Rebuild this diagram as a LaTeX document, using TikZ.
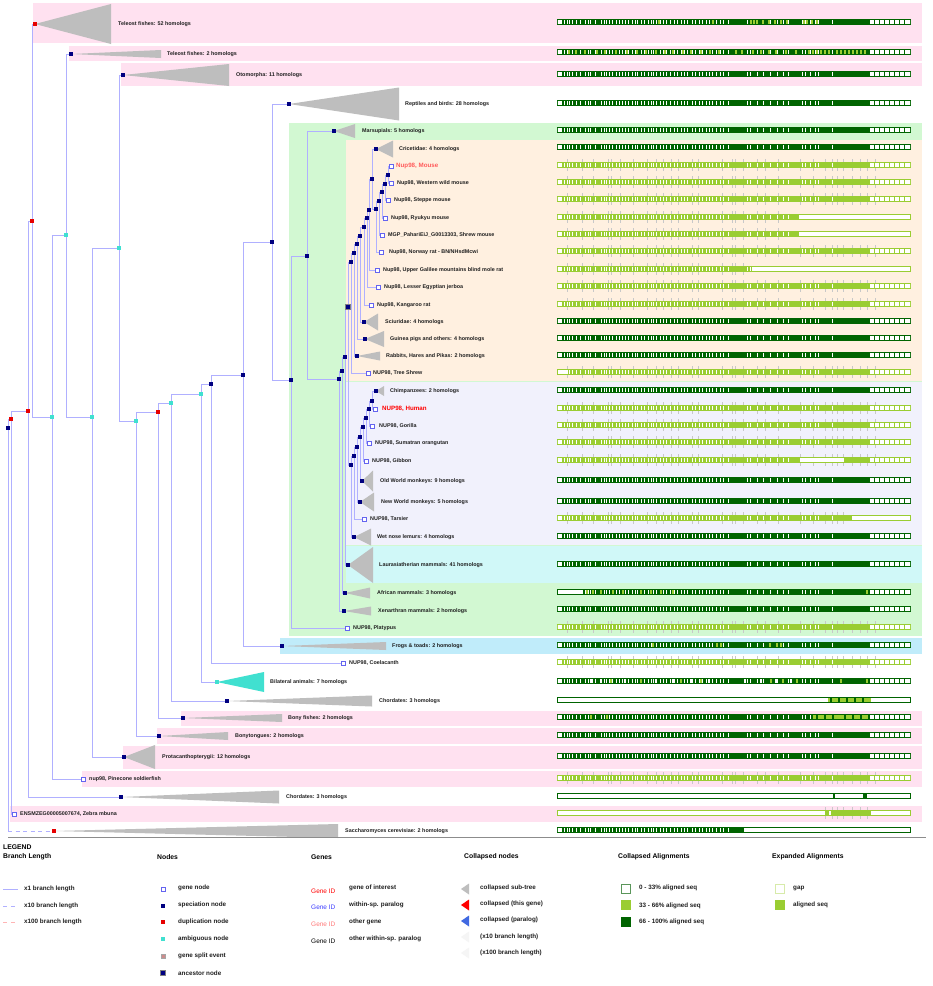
\documentclass[tikz,border=0pt]{standalone}
\usepackage{fontspec}
\setmainfont{Liberation Sans}
\pgfdeclarelayer{bands}\pgfdeclarelayer{edges}
\pgfsetlayers{bands,edges,main}
\definecolor{brc}{RGB}{176,176,255}
\definecolor{genebd}{RGB}{100,100,240}
\definecolor{navyc}{RGB}{0,0,128}
\definecolor{dupc}{RGB}{230,0,0}
\definecolor{ambc}{RGB}{64,224,208}
\definecolor{trig}{RGB}{190,190,190}
\definecolor{pinkb}{RGB}{255,225,240}
\definecolor{greenb}{RGB}{210,248,210}
\definecolor{peachb}{RGB}{255,240,224}
\definecolor{lavb}{RGB}{241,241,252}
\definecolor{cyanb}{RGB}{208,248,248}
\definecolor{blueb}{RGB}{192,236,250}
\definecolor{dkg}{RGB}{0,100,0}
\definecolor{lgc}{RGB}{154,205,50}
\definecolor{tickc}{RGB}{200,200,200}
\definecolor{mousec}{RGB}{255,90,90}
\definecolor{parac}{RGB}{60,60,255}
\definecolor{othc}{RGB}{255,120,120}
\definecolor{lblue}{RGB}{65,105,225}
\tikzset{
 br/.style={draw=brc, line width=0.9pt},
 spec/.style={rectangle, fill=navyc, minimum size=3.4pt, inner sep=0pt},
 dupn/.style={rectangle, fill=dupc, minimum size=3.4pt, inner sep=0pt},
 ambn/.style={rectangle, fill=ambc, minimum size=3.4pt, inner sep=0pt},
 genen/.style={rectangle, draw=genebd, fill=white, line width=0.6pt, minimum size=4pt, inner sep=0pt},
 ancn/.style={rectangle, draw=gray, fill=navyc, line width=0.8pt, minimum size=4.6pt, inner sep=0pt},
 lab/.style={anchor=west, inner sep=0pt, text=black!88, font=\fontsize{5.4}{6}\selectfont\bfseries},
 biglab/.style={anchor=west, inner sep=0pt, font=\fontsize{6.2}{7}\selectfont\bfseries},
 leghead/.style={anchor=west, inner sep=0pt, font=\fontsize{6.8}{8}\selectfont\bfseries},
 legtxt/.style={anchor=west, inner sep=0pt, text=black!88, font=\fontsize{6.3}{7}\selectfont\bfseries},
 gid/.style={anchor=west, inner sep=0pt, font=\fontsize{6.5}{7}\selectfont},
 trif/.style={fill=trig}
}
\def\gapsA{564,566.5,569,571.5,576,580,585,587.5,590,595,601,603.5,606,609,612,616,619,622,625,628,632,634.5,637,641,644,648,650.5,653,656,660,663,666,670,674,677,681,684,687,692,695,699,702,706,709,712,716,720,723,728,747,750,757,763,770,777,783,788,802,805,810,815,818,832}
\def\ticksA{567,582,593,608,611,620,633,647,656,663,671,678,692,698,722,732,735,743,757,765,778,800,813,825,832,837,843,852,860,867,875}
\newcommand\abar[4]{%
 \fill[#2] (557,#1-2.7) rectangle (911,#1+2.7);
 \fill[white] (557.6,#1-1.9) rectangle (562,#1+1.9);
 \foreach \g in \gapsA {\fill[white] (\g,#1-1.9) rectangle ++(1.05,3.8);}
 \fill[white] (870,#1-1.9) rectangle (910.4,#1+1.9);
 \foreach \g in {874,879,...,904} {\fill[#2] (\g,#1-1.9) rectangle ++(1,3.8);}
 \fill[white] (#3,#1-1.9) rectangle (910.4,#1+1.9);
 \fill[white] (557.6,#1-1.9) rectangle (#4,#1+1.9);
}
\newcommand\ebar[3]{%
 \foreach \g in \ticksA {\ifdim\g pt<#2pt \draw[tickc, line width=0.6pt] (\g,#1-6) -- (\g,#1+6);\fi}
 \abar{#1}{lgc}{#2}{#3}
}
\newcommand\obar[2]{%
 \fill[#2] (557,#1-2.7) rectangle (911,#1+2.7);
 \fill[white] (557.6,#1-1.9) rectangle (910.4,#1+1.9);
}
\newcommand\lbits[3]{\foreach \g in {#3} {\fill[#2] (\g,#1-1.9) rectangle ++(1.6,3.8);}}
\newcommand\cleaf[8]{%
 \node[#2] (#1) at (#3,#4) {};
 \begin{pgfonlayer}{edges}\fill[trif] (#1.center) -- (#5,#4-#6) -- (#5,#4+#6) -- cycle;\end{pgfonlayer}
 \node[lab] (#1t) at (#7,#4) {#8};
}
\newcommand\gleaf[5]{%
 \node[genen] (#1) at (#2,#3) {};
 \node[lab] (#1t) at (#4,#3) {#5};
}
\begin{document}
\begin{tikzpicture}[x=1pt,y=-1pt]
\useasboundingbox (0,0) rectangle (933,986);
% ---------- taxon bands
\begin{pgfonlayer}{bands}
\fill[white] (0,0) rectangle (933,986);
\fill[pinkb] (33,3) rectangle (922,43);
\fill[pinkb] (69,46) rectangle (922,61);
\fill[pinkb] (121,63) rectangle (922,86);
\fill[greenb] (289,123) rectangle (922,636);
\fill[peachb] (346,140) rectangle (922,381);
\fill[lavb] (346,382) rectangle (922,545);
\fill[cyanb] (346,546) rectangle (922,583);
\fill[blueb] (280,638) rectangle (922,654);
\fill[pinkb] (181,711) rectangle (922,726);
\fill[pinkb] (157,728) rectangle (922,744);
\fill[pinkb] (123,746) rectangle (922,769);
\fill[pinkb] (82,771) rectangle (922,787);
\fill[pinkb] (10,806) rectangle (922,822);
\end{pgfonlayer}
% ---------- internal nodes
\node[spec] (r0) at (8,428) {};
\node[dupn] (d1) at (11,419) {};
\node[dupn] (d2) at (28,411) {};
\node[dupn] (d3) at (32,221) {};
\node[ambn] (a1) at (52,417) {};
\node[ambn] (a2) at (66,235) {};
\node[ambn] (a3) at (92,417) {};
\node[ambn] (a4) at (119,248) {};
\node[ambn] (a5) at (136,421) {};
\node[dupn] (d4) at (158,412) {};
\node[ambn] (a6) at (171,403) {};
\node[ambn] (a7) at (201,394) {};
\node[spec] (s1) at (211,384) {};
\node[spec] (s2) at (243,375) {};
\node[spec] (s3) at (272,242) {};
\node[spec] (s4) at (291,380) {};
\node[spec] (s5) at (307,256) {};
\node[spec] (s6) at (339,379) {};
\node[spec] (s7) at (342,371) {};
\node[spec] (s8) at (345,357) {};
\node[ancn] (anc1) at (348,307) {};
\node[spec] (s9) at (351,262) {};
\node[spec] (s10) at (354,253) {};
\node[spec] (s11) at (357,244) {};
\node[spec] (s12) at (360,236) {};
\node[spec] (s13) at (364,227) {};
\node[spec] (s14) at (367,218) {};
\node[spec] (s15) at (369,210) {};
\node[spec] (s16) at (372,179) {};
\node[spec] (s17) at (376,209) {};
\node[spec] (s18) at (379,201) {};
\node[spec] (s19) at (382,192) {};
\node[spec] (s20) at (385,184) {};
\node[spec] (s21) at (388,175) {};
\node[spec] (p8) at (351,465) {};
\node[spec] (p7) at (354,456) {};
\node[spec] (p6) at (357,447) {};
\node[spec] (p5) at (360,437) {};
\node[spec] (p4) at (363,427) {};
\node[spec] (p3) at (366,418) {};
\node[spec] (p2) at (369,409) {};
\node[spec] (p1) at (372,401) {};
% ---------- leaves
\cleaf{L1}{dupn}{35}{24}{111}{20}{118}{Teleost fishes: 52 homologs}
\cleaf{L2}{spec}{71}{54}{161}{4}{167}{Teleost fishes: 2 homologs}
\cleaf{L3}{spec}{123}{75}{229}{11}{236}{Otomorpha: 11 homologs}
\cleaf{L4}{spec}{289}{104}{399}{16.5}{405}{Reptiles and birds: 28 homologs}
\cleaf{L5}{spec}{334}{131}{355}{7}{362}{Marsupials: 5 homologs}
\cleaf{L6}{spec}{376}{149}{393}{8.5}{399}{Cricetidae: 4 homologs}
\node[genen] (G7) at (391,166) {};
\node[biglab, text=mousec] (G7t) at (396,166) {Nup98, Mouse};
\gleaf{G8}{391}{183}{397}{Nup98, Western wild mouse}
\gleaf{G9}{388}{200}{394}{Nup98, Steppe mouse}
\gleaf{G10}{385}{218}{391}{Nup98, Ryukyu mouse}
\gleaf{G11}{382}{235}{388}{MGP\_PahariEiJ\_G0013303, Shrew mouse}
\gleaf{G12}{381}{252}{389}{Nup98, Norway rat - BN/NHsdMcwi}
\gleaf{G13}{377}{270}{383}{Nup98, Upper Galilee mountains blind mole rat}
\gleaf{G14}{378}{287}{384}{Nup98, Lesser Egyptian jerboa}
\gleaf{G15}{371}{305}{377}{Nup98, Kangaroo rat}
\cleaf{L16}{spec}{364}{322}{378}{8.5}{385}{Sciuridae: 4 homologs}
\cleaf{L17}{spec}{365}{339}{384}{8}{390}{Guinea pigs and others: 4 homologs}
\cleaf{L18}{spec}{357}{356}{380}{4.5}{386}{Rabbits, Hares and Pikas: 2 homologs}
\gleaf{G19}{368}{373}{373}{NUP98, Tree Shrew}
\cleaf{L20}{spec}{376}{391}{384}{5}{390}{Chimpanzees: 2 homologs}
\node[genen] (G21) at (375,409) {};
\node[biglab, text=red] (G21t) at (382,409) {NUP98, Human};
\gleaf{G22}{372}{426}{379}{NUP98, Gorilla}
\gleaf{G23}{369}{443}{375}{NUP98, Sumatran orangutan}
\gleaf{G24}{366}{461}{372}{NUP98, Gibbon}
\cleaf{L25}{spec}{362}{481}{373}{10.5}{380}{Old World monkeys: 9 homologs}
\cleaf{L26}{spec}{360}{502}{374}{9.5}{381}{New World monkeys: 5 homologs}
\gleaf{G27}{364}{519}{370}{NUP98, Tarsier}
\cleaf{L28}{spec}{354}{537}{371}{8.5}{377}{Wet nose lemurs: 4 homologs}
\cleaf{L29}{spec}{348}{565}{373}{18}{379}{Laurasiatherian mammals: 41 homologs}
\cleaf{L30}{spec}{345}{593}{370}{5.5}{377}{African mammals: 3 homologs}
\cleaf{L31}{spec}{344}{611}{371}{4.5}{378}{Xenarthran mammals: 2 homologs}
\gleaf{G32}{347}{628}{353}{NUP98, Platypus}
\cleaf{L33}{spec}{282}{646}{386}{4}{392}{Frogs \& toads: 2 homologs}
\gleaf{G34}{343}{663}{349}{NUP98, Coelacanth}
\node[ambn] (L35) at (217,682) {};
\begin{pgfonlayer}{edges}\fill[ambc] (L35.center) -- (264,672) -- (264,692) -- cycle;\end{pgfonlayer}
\node[lab] (L35t) at (270,682) {Bilateral animals: 7 homologs};
\cleaf{L36}{spec}{227}{701}{372}{5.5}{379}{Chordates: 3 homologs}
\cleaf{L37}{spec}{183}{718}{282}{4}{288}{Bony fishes: 2 homologs}
\cleaf{L38}{spec}{159}{736}{228}{4}{235}{Bonytongues: 2 homologs}
\cleaf{L39}{spec}{124}{757}{155}{12}{162}{Protacanthopterygii: 12 homologs}
\gleaf{G40}{83}{779}{89}{nup98, Pinecone soldierfish}
\cleaf{L41}{spec}{121}{797}{279}{6.5}{286}{Chordates: 3 homologs}
\gleaf{G42}{14}{814}{20}{ENSMZEG00005007674, Zebra mbuna}
\cleaf{L43}{dupn}{54}{831}{338}{7}{345}{Saccharomyces cerevisiae: 2 homologs}
% ---------- branches
\begin{pgfonlayer}{edges}
\foreach \p/\c in {r0/d1, d1/d2, d1/G42, d2/d3, d2/L41, d3/L1, d3/a1, a1/a2, a1/G40, a2/L2, a2/a3, a3/a4, a3/L39, a4/L3, a4/a5, a5/d4, a5/L38, d4/a6, d4/L37, a6/a7, a6/L36, a7/s1, a7/L35, s1/s2, s1/G34, s2/s3, s2/L33, s3/L4, s3/s4, s4/s5, s4/G32, s5/L5, s5/s6, s6/s7, s6/L31, s7/s8, s7/L30, s8/anc1, s8/L29, anc1/s9, anc1/p8, s9/s10, s9/G19, s10/s11, s10/L18, s11/s12, s11/L17, s12/s13, s12/L16, s13/s14, s13/G15, s14/s15, s14/G14, s15/s16, s15/G13, s16/L6, s16/s17, s17/s18, s17/G12, s18/s19, s18/G11, s19/s20, s19/G10, s20/s21, s20/G9, s21/G7, s21/G8, p8/p7, p8/L28, p7/p6, p7/G27, p6/p5, p6/L26, p5/p4, p5/L25, p4/p3, p4/G24, p3/p2, p3/G23, p2/p1, p2/G22, p1/L20, p1/G21}
 {\draw[br] (\p.center) |- (\c.center);}
\coordinate (rc) at (r0.center |- L43.center);
\draw[br] (r0.center) -- (rc);
\draw[br, dash pattern=on 4pt off 3.5pt] (rc) -- (L43.center);
\end{pgfonlayer}
% ---------- alignments
\abar{22}{dkg}{910.4}{557.6}\lbits{22}{lgc}{658,712,750,753,756,762,768,774,780,786,803,806,811,816}
\abar{52}{dkg}{910.4}{557.6}\lbits{52}{lgc}{568,575,584,596,604,615,626,636,645,655,664,672,682,690,700,709,718,735,741,752,760,768,775,785,795,808,812,816,820,824,828,836,840,844,848,852,856,860,864}
\abar{74}{dkg}{910.4}{557.6}
\abar{103}{dkg}{910.4}{557.6}
\abar{130}{dkg}{910.4}{557.6}
\abar{147}{dkg}{910.4}{557.6}
\ebar{165}{910.4}{557.6}
\ebar{182}{910.4}{557.6}
\ebar{199}{910.4}{557.6}
\ebar{217}{799}{557.6}
\ebar{234}{799}{557.6}
\ebar{251}{910.4}{557.6}
\ebar{269}{752}{557.6}
\ebar{286}{910.4}{557.6}
\ebar{304}{910.4}{557.6}
\abar{321}{dkg}{910.4}{557.6}
\abar{338}{dkg}{910.4}{557.6}
\abar{355}{dkg}{910.4}{557.6}
\ebar{372}{910.4}{567}
\abar{390}{dkg}{910.4}{557.6}
\ebar{408}{910.4}{557.6}
\ebar{425}{910.4}{557.6}
\ebar{442}{910.4}{557.6}
\ebar{460}{910.4}{557.6}\fill[white] (800,458.1) rectangle (844,461.9);
\abar{480}{dkg}{910.4}{557.6}
\abar{501}{dkg}{910.4}{557.6}
\ebar{518}{852}{557.6}
\abar{536}{dkg}{910.4}{557.6}
\abar{564}{dkg}{910.4}{557.6}
\abar{592}{dkg}{910.4}{583}\lbits{592}{lgc}{586,592,600,612,622,640,650,660,672,866}
\abar{609}{dkg}{910.4}{557.6}
\ebar{627}{910.4}{557.6}
\abar{645}{dkg}{910.4}{557.6}\lbits{645}{lgc}{652,716,720,769,776,780}
\ebar{662}{910.4}{557.6}
\abar{681}{dkg}{910.4}{557.6}\lbits{681}{white}{591,600,624,655,672,690,708,744,760,775,790}\lbits{681}{lgc}{610,640,680,700,770,782,796,840,866}
\obar{700}{dkg}\fill[lgc] (828,698.1) rectangle (871,701.9);\lbits{700}{dkg}{830,838,846,854,862}
\abar{717}{dkg}{910.4}{557.6}\fill[lgc] (813,715.1) rectangle (868,718.9);\lbits{717}{dkg}{816,824,832,844,852,860}\lbits{717}{lgc}{590,606}
\abar{735}{dkg}{910.4}{557.6}
\abar{756}{dkg}{910.4}{557.6}
\ebar{778}{910.4}{557.6}
\obar{796}{dkg}\lbits{796}{dkg}{833,863,865}
\foreach \g in {825,832,837,843,852,860,867} {\draw[tickc, line width=0.6pt] (\g,807) -- (\g,819);}
\obar{813}{lgc}\fill[lgc] (825,811.1) rectangle (871,814.9);\lbits{813}{white}{829,880,890}
\abar{830}{dkg}{744}{557.6}
% ---------- separator
\coordinate (sepL) at (8,837);
\coordinate (sepR) at (926,837);
\draw[black!45, line width=0.8pt] (sepL) -- (sepR);
% ---------- legend
\node[leghead, anchor=north west] (lgT) at (3,845) {LEGEND};
\node[leghead] (lgBL) at (3,857) {Branch Length};
\node[leghead] (lgN) at (157,857) {Nodes};
\node[leghead] (lgG) at (311,857) {Genes};
\node[leghead] (lgC) at (464,857) {Collapsed nodes};
\node[leghead] (lgCA) at (618,857) {Collapsed Alignments};
\node[leghead] (lgEA) at (772,857) {Expanded Alignments};
% branch length
\coordinate (b1a) at (3,889); \coordinate (b1b) at (18,889);
\coordinate (b2a) at (3,906); \coordinate (b2b) at (18,906);
\coordinate (b3a) at (3,922); \coordinate (b3b) at (18,922);
\draw[br] (b1a) -- (b1b);
\draw[br, dash pattern=on 4pt off 4pt] (b2a) -- (b2b);
\draw[draw={rgb,255:red,255;green,180;blue,180}, line width=0.9pt, dash pattern=on 4pt off 4pt] (b3a) -- (b3b);
\node[legtxt] (bt1) at (24,889) {x1 branch length};
\node[legtxt] (bt2) at (24,906) {x10 branch length};
\node[legtxt] (bt3) at (24,922) {x100 branch length};
% nodes
\node[genen] (ln1) at (163,889) {};
\node[spec] (ln2) at (163,906) {};
\node[dupn] (ln3) at (163,922) {};
\node[ambn] (ln4) at (163,939) {};
\node[rectangle, draw=gray!70, fill={rgb,255:red,205;green,140;blue,140}, minimum size=4.2pt, inner sep=0pt, line width=0.6pt] (ln5) at (163,956) {};
\node[ancn] (ln6) at (163,973) {};
\node[legtxt] (lnt1) at (178,888) {gene node};
\node[legtxt] (lnt2) at (178,905) {speciation node};
\node[legtxt] (lnt3) at (178,922) {duplication node};
\node[legtxt] (lnt4) at (178,939) {ambiguous node};
\node[legtxt] (lnt5) at (178,956) {gene split event};
\node[legtxt] (lnt6) at (178,973) {ancestor node};
% genes
\node[gid, text=red] (gi1) at (311,891) {Gene ID};
\node[gid, text=parac] (gi2) at (311,907) {Gene ID};
\node[gid, text=othc] (gi3) at (311,924) {Gene ID};
\node[gid, text=black] (gi4) at (311,941) {Gene ID};
\node[legtxt] (git1) at (349,888) {gene of interest};
\node[legtxt] (git2) at (349,905) {within-sp. paralog};
\node[legtxt] (git3) at (349,922) {other gene};
\node[legtxt] (git4) at (349,939) {other within-sp. paralog};
% collapsed nodes
\fill[trig] (461,889) -- (469,883.5) -- (469,894.5) -- cycle;
\fill[red] (461,905) -- (469,899.5) -- (469,910.5) -- cycle;
\fill[lblue] (461,921) -- (469,915.5) -- (469,926.5) -- cycle;
\fill[black!4] (461,937) -- (469,931.5) -- (469,942.5) -- cycle;
\fill[black!4] (461,953) -- (469,947.5) -- (469,958.5) -- cycle;
\node[legtxt] (lct1) at (480,888) {collapsed sub-tree};
\node[legtxt] (lct2) at (480,904) {collapsed (this gene)};
\node[legtxt] (lct3) at (480,920) {collapsed (paralog)};
\node[legtxt] (lct4) at (480,937) {(x10 branch length)};
\node[legtxt] (lct5) at (480,953) {(x100 branch length)};
% collapsed alignments
\node[rectangle, draw={rgb,255:red,90;green,150;blue,90}, fill=white, line width=0.8pt, minimum size=9pt, inner sep=0pt] (ca1) at (626,889) {};
\node[rectangle, fill=lgc, minimum size=10pt, inner sep=0pt] (ca2) at (626,905) {};
\node[rectangle, fill=dkg, minimum size=10pt, inner sep=0pt] (ca3) at (626,922) {};
\node[legtxt] (cat1) at (639,888) {0 - 33\% aligned seq};
\node[legtxt] (cat2) at (639,906) {33 - 66\% aligned seq};
\node[legtxt] (cat3) at (639,922) {66 - 100\% aligned seq};
% expanded alignments
\node[rectangle, draw={rgb,255:red,215;green,235;blue,170}, fill=white, line width=0.8pt, minimum size=9pt, inner sep=0pt] (ea1) at (780,889) {};
\node[rectangle, fill=lgc, minimum size=10pt, inner sep=0pt] (ea2) at (780,905) {};
\node[legtxt] (eat1) at (793,888) {gap};
\node[legtxt] (eat2) at (793,905) {aligned seq};
\end{tikzpicture}
\end{document}
